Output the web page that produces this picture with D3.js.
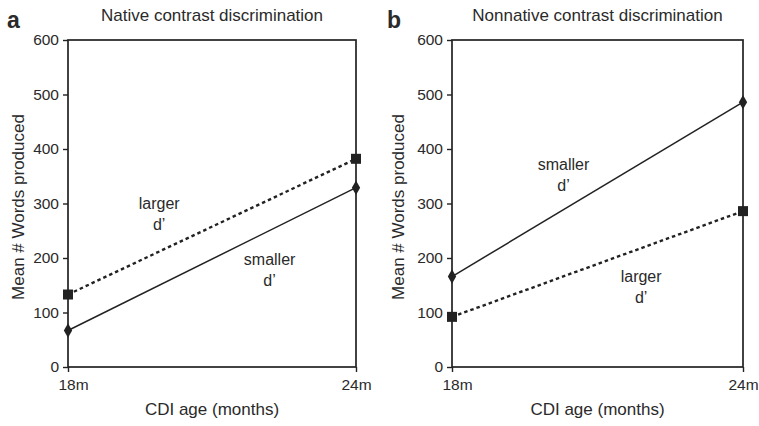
<!DOCTYPE html>
<meta charset="utf-8">
<script src="https://d3js.org/d3.v7.min.js"></script>
<style>
body { margin: 0; background: #fff; }
text { font-family: "Liberation Sans", Arial, sans-serif; fill: #2a2a2a; }
</style>
<svg id="chart" width="759" height="426"></svg>
<script>
// data
var months = [18, 24];
var monthLabels = ["18m", "24m"];
var yTicks = [0, 100, 200, 300, 400, 500, 600];
var panelTitles = ["Native contrast discrimination", "Nonnative contrast discrimination"];
var panelLetters = ["a", "b"];
var largerA = [133, 382];
var smallerA = [67, 329];
var smallerB = [166, 486];
var largerB = [92, 286];
// annotations, in data units (month, words)
var notesA = [{text: ["larger", "d’"], m: 19.9, v: 281}, {text: ["smaller", "d’"], m: 22.2, v: 178}];
var notesB = [{text: ["smaller", "d’"], m: 20.3, v: 352}, {text: ["larger", "d’"], m: 21.9, v: 147}];

var panels = [
  {left: 68, right: 356, larger: largerA, smaller: smallerA, notes: notesA, labelX: 24, letterX: 7},
  {left: 452, right: 743, larger: largerB, smaller: smallerB, notes: notesB, labelX: 404, letterX: 387}
];
var plotTop = 40, plotBottom = 367;
var ink = "#222";

var svg = d3.select("#chart");

panels.forEach(function(p, i) {
  var x = d3.scaleLinear().domain([18, 24]).range([p.left, p.right]);
  var y = d3.scaleLinear().domain([0, 600]).range([plotBottom, plotTop]);
  var g = svg.append("g");

  // frame
  g.append("rect")
    .attr("x", p.left).attr("y", plotTop)
    .attr("width", p.right - p.left).attr("height", plotBottom - plotTop)
    .attr("fill", "none").attr("stroke", ink).attr("stroke-width", 1.7);

  // y axis
  var ya = g.append("g").attr("transform", "translate(" + p.left + ",0)")
    .call(d3.axisLeft(y).tickValues(yTicks).tickSize(5).tickPadding(4).tickFormat(d3.format("d")));
  ya.select(".domain").remove();
  ya.selectAll("line").attr("stroke", ink).attr("stroke-width", 1.4);
  ya.selectAll("text").style("font-size", "15.5px").attr("fill", "#2a2a2a");

  // x axis
  var xa = g.append("g").attr("transform", "translate(0," + plotBottom + ")")
    .call(d3.axisBottom(x).tickValues(months).tickSize(5).tickPadding(7)
      .tickFormat(function(d, k) { return monthLabels[k]; }));
  xa.select(".domain").remove();
  xa.selectAll("line").attr("stroke", ink).attr("stroke-width", 1.4);
  xa.selectAll("text").style("font-size", "15.5px").attr("fill", "#2a2a2a")
    .attr("dx", function(d, k) { return k === 0 ? 5 : 0; });

  var line = d3.line().x(function(d, k) { return x(months[k]); }).y(function(d) { return y(d); });

  g.append("path").datum(p.larger).attr("d", line)
    .attr("fill", "none").attr("stroke", ink).attr("stroke-width", 2.4)
    .attr("stroke-dasharray", "3.5,3");
  g.append("path").datum(p.smaller).attr("d", line)
    .attr("fill", "none").attr("stroke", ink).attr("stroke-width", 1.5);

  g.selectAll(".sq").data(p.larger).enter().append("rect")
    .attr("x", function(d, k) { return x(months[k]) - 5; })
    .attr("y", function(d) { return y(d) - 5; })
    .attr("width", 10).attr("height", 10).attr("fill", ink);
  g.selectAll(".dm").data(p.smaller).enter().append("path")
    .attr("d", d3.symbol(d3.symbolDiamond, 60))
    .attr("transform", function(d, k) { return "translate(" + x(months[k]) + "," + y(d) + ")"; })
    .attr("fill", ink);

  // annotations
  p.notes.forEach(function(n) {
    var t = g.append("text").attr("text-anchor", "middle").style("font-size", "16px")
      .attr("x", x(n.m)).attr("y", y(n.v) - 5);
    t.append("tspan").attr("x", x(n.m)).text(n.text[0]);
    t.append("tspan").attr("x", x(n.m)).attr("dy", 21).text(n.text[1]);
  });

  // titles
  g.append("text").attr("x", (p.left + p.right) / 2).attr("y", 21)
    .attr("text-anchor", "middle").style("font-size", "17px").text(panelTitles[i]);
  g.append("text").attr("x", p.letterX).attr("y", 28)
    .style("font-size", "23px").style("font-weight", "bold").text(panelLetters[i]);
  g.append("text").attr("x", (p.left + p.right) / 2).attr("y", 415)
    .attr("text-anchor", "middle").style("font-size", "17px").text("CDI age (months)");
  g.append("text")
    .attr("transform", "translate(" + p.labelX + ",207) rotate(-90)")
    .attr("text-anchor", "middle").style("font-size", "17px").text("Mean # Words produced");
});
</script>
